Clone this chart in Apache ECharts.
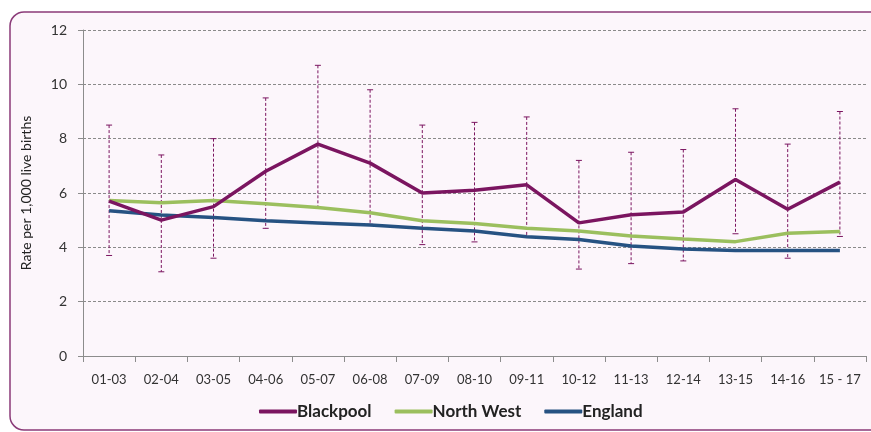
<!DOCTYPE html>
<html>
<head>
<meta charset="utf-8">
<script src="https://cdn.jsdelivr.net/npm/echarts@6/dist/echarts.min.js"></script>
<style>
html,body{margin:0;padding:0;background:#fff;}
#chart{width:871px;height:432px;}
</style>
</head>
<body>
<div id="chart"></div>
<script>
const categories = ['01-03','02-04','03-05','04-06','05-07','06-08','07-09','08-10','09-11','10-12','11-13','12-14','13-15','14-16','15 - 17'];
const blackpool = [5.7, 5.0, 5.5, 6.8, 7.8, 7.1, 6.0, 6.1, 6.3, 4.9, 5.2, 5.3, 6.5, 5.4, 6.4];
const blackpoolUpper = [8.5, 7.4, 8.0, 9.5, 10.7, 9.8, 8.5, 8.6, 8.8, 7.2, 7.5, 7.6, 9.1, 7.8, 9.0];
const blackpoolLower = [3.7, 3.1, 3.6, 4.7, 5.5, 4.85, 4.1, 4.2, 4.4, 3.2, 3.4, 3.5, 4.5, 3.6, 4.4];
const northWest = [5.72, 5.64, 5.72, 5.6, 5.47, 5.27, 4.98, 4.88, 4.7, 4.6, 4.42, 4.31, 4.21, 4.52, 4.58];
const england = [5.35, 5.19, 5.1, 4.98, 4.9, 4.82, 4.7, 4.6, 4.39, 4.29, 4.05, 3.94, 3.88, 3.88, 3.88];
const yTicks = [0, 2, 4, 6, 8, 10, 12];

const FONT = 'Lato';
const chart = echarts.init(document.getElementById('chart'), null, {renderer: 'canvas'});
const errData = categories.map((c, i) => [i, blackpoolUpper[i], blackpoolLower[i]]);

chart.setOption({
  backgroundColor: '#ffffff',
  animation: false,
  textStyle: {fontFamily: FONT},
  graphic: [{
    type: 'rect', z: -10, silent: true,
    shape: {x: 10, y: 12, width: 900, height: 418, r: 14},
    style: {fill: '#fcf6fb', stroke: '#8a3a78', lineWidth: 1.5}
  }],
  grid: {left: 83, right: 5, top: 30, bottom: 76, containLabel: false, outerBoundsMode: 'none'},
  legend: {
    data: ['Blackpool', 'North West', 'England'],
    bottom: 7, left: 254,
    icon: 'roundRect', itemWidth: 38, itemHeight: 4, itemGap: 23,
    textStyle: {fontFamily: FONT, fontSize: 17, fontWeight: 'bold', color: '#222', padding: [0, 0, 0, -5]}
  },
  xAxis: {
    type: 'category', data: categories, boundaryGap: true,
    axisLine: {lineStyle: {color: '#8c8c8c', width: 1}},
    axisTick: {show: true, length: 6, alignWithLabel: false, lineStyle: {color: '#8c8c8c'}},
    axisLabel: {color: '#333', fontSize: 13, margin: 17, fontFamily: FONT, interval: 0}
  },
  yAxis: {
    type: 'value', min: yTicks[0], max: yTicks[yTicks.length - 1], interval: 2,
    name: 'Rate per 1,000 live births', nameLocation: 'middle', nameGap: 50,
    nameTextStyle: {fontSize: 14, color: '#222', fontFamily: FONT},
    axisLine: {show: true, lineStyle: {color: '#8c8c8c'}},
    axisTick: {show: true, length: 5, lineStyle: {color: '#8c8c8c'}},
    axisLabel: {color: '#333', fontSize: 14, margin: 16, fontFamily: FONT},
    splitLine: {show: true, lineStyle: {color: '#8a8a8a', type: [3, 2], width: 1}}
  },
  series: [
    {
      name: 'errors', type: 'custom', z: 1,
      data: errData,
      encode: {x: 0, y: [1, 2]},
      renderItem: function (params, api) {
        const top = api.coord([api.value(0), api.value(1)]);
        const bot = api.coord([api.value(0), api.value(2)]);
        const cw = 3;
        const st = {stroke: '#7b1560', lineWidth: 1};
        return {
          type: 'group',
          children: [
            {type: 'line', shape: {x1: top[0], y1: top[1], x2: bot[0], y2: bot[1]}, style: {stroke: '#7b1560', lineWidth: 1, lineDash: [3, 2]}},
            {type: 'line', shape: {x1: top[0] - cw, y1: top[1], x2: top[0] + cw, y2: top[1]}, style: st},
            {type: 'line', shape: {x1: bot[0] - cw, y1: bot[1], x2: bot[0] + cw, y2: bot[1]}, style: st}
          ]
        };
      }
    },
    {
      name: 'England', type: 'line', data: england, z: 3,
      showSymbol: false, symbol: 'none',
      lineStyle: {color: '#265282', width: 3.5}, itemStyle: {color: '#265282'}
    },
    {
      name: 'North West', type: 'line', data: northWest, z: 4,
      showSymbol: false, symbol: 'none',
      lineStyle: {color: '#9bbf5e', width: 3.5}, itemStyle: {color: '#9bbf5e'}
    },
    {
      name: 'Blackpool', type: 'line', data: blackpool, z: 5,
      showSymbol: false, symbol: 'none',
      lineStyle: {color: '#7b1560', width: 3.5}, itemStyle: {color: '#7b1560'}
    }
  ]
});
</script>
</body>
</html>
